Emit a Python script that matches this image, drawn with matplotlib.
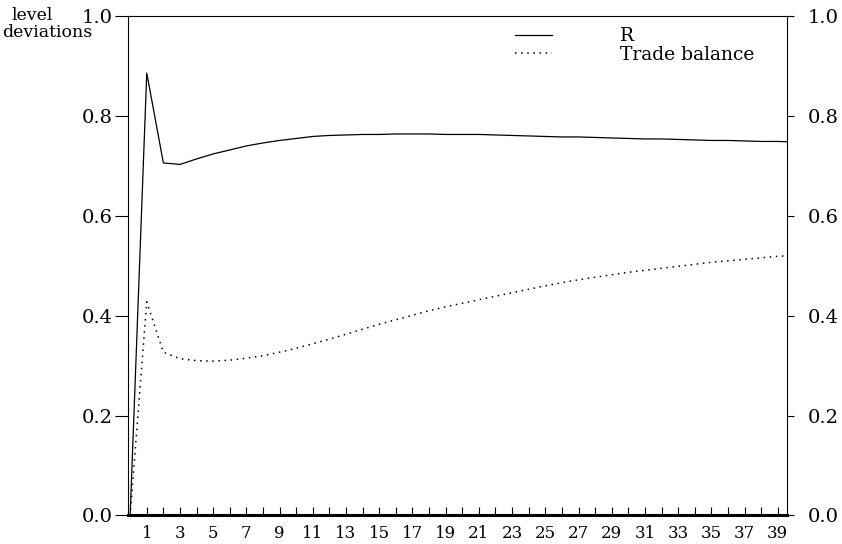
import matplotlib
matplotlib.use("Agg")
import matplotlib.pyplot as plt

periods = list(range(0, 41))
r_values = [0.0, 0.886, 0.706, 0.703, 0.714, 0.724, 0.732, 0.740, 0.746, 0.751,
            0.755, 0.759, 0.761, 0.762, 0.763, 0.763, 0.764, 0.764, 0.764, 0.763,
            0.763, 0.763, 0.762, 0.761, 0.760, 0.759, 0.758, 0.758, 0.757, 0.756,
            0.755, 0.754, 0.754, 0.753, 0.752, 0.751, 0.751, 0.750, 0.749, 0.749,
            0.748]
tb_values = [0.0, 0.428, 0.327, 0.314, 0.310, 0.309, 0.311, 0.315, 0.320, 0.327,
             0.335, 0.344, 0.353, 0.363, 0.373, 0.383, 0.392, 0.401, 0.410, 0.418,
             0.425, 0.432, 0.439, 0.446, 0.453, 0.460, 0.466, 0.472, 0.477, 0.482,
             0.487, 0.491, 0.495, 0.499, 0.503, 0.507, 0.510, 0.513, 0.516, 0.519,
             0.521]
series_names = ["R", "Trade balance"]
y_ticks = [0.0, 0.2, 0.4, 0.6, 0.8, 1.0]
x_major = list(range(1, 40, 2))
x_minor = list(range(1, 40))

plt.rcParams['font.family'] = ['DejaVu Serif']

fig = plt.figure(figsize=(8.42, 5.44), dpi=100)
ax = fig.add_axes([0.1526, 0.0524, 0.782, 0.918])

ax.plot(periods, r_values, color='black', lw=0.9, ls='-', label=series_names[0])
ax.plot(periods, tb_values, color='black', lw=1.1, ls=(0, (1, 3)), label=series_names[1])

ax.set_xlim(-0.1, 39.55)
ax.set_ylim(0, 1.0)

ax.set_yticks(y_ticks)
ax.set_yticklabels([f"{v:.1f}" for v in y_ticks], fontsize=14)
ax.tick_params(axis='y', which='major', direction='out', left=True, right=False,
               labelleft=True, labelright=False, length=9.5, width=0.8, pad=2)

ax2 = ax.twinx()
ax2.set_ylim(0, 1.0)
ax2.set_yticks(y_ticks)
ax2.set_yticklabels([f"{v:.1f}" for v in y_ticks], fontsize=14)
ax2.tick_params(axis='y', direction='out', length=5, width=0.8, pad=10)
for s in ax2.spines.values():
    s.set_visible(False)

ax.set_xticks(x_major)
ax.set_xticklabels([str(v) for v in x_major], fontsize=12)
ax.set_xticks(x_minor, minor=True)
ax.tick_params(axis='x', which='both', direction='in', length=5.5, width=0.8, pad=7,
               top=False, bottom=True)

for s in ['left', 'right', 'top']:
    ax.spines[s].set_linewidth(0.8)
ax.spines['bottom'].set_linewidth(2.2)

ax.legend(loc='upper left', bbox_to_anchor=(0.587, 0.978), frameon=False,
          fontsize=13.5, handlelength=2.0, handletextpad=3.6, labelspacing=0.05,
          borderaxespad=0, borderpad=0)

fig.text(12 / 842, 1 - 20 / 544, "level", fontsize=12.5, ha='left', va='baseline')
fig.text(2 / 842, 1 - 37 / 544, "deviations", fontsize=12.5, ha='left', va='baseline')

fig.savefig("out.png", dpi=100)
